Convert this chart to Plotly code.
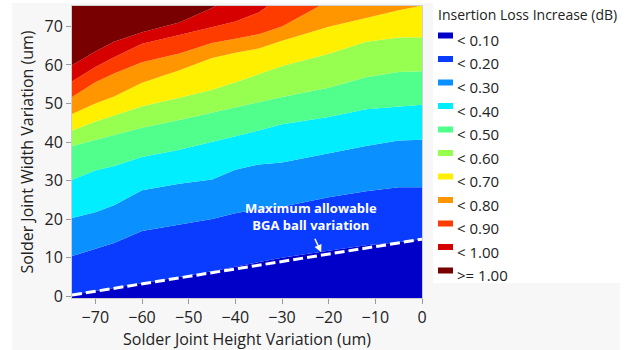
import plotly.graph_objects as go

# ---------------- data ----------------
x_vals = [-75, -70, -66, -60, -52, -45, -40, -35, -30, -20, -12, -5, 0]

# y position (um) of each contour boundary at x_vals
b010 = [0.3, 1.3, 2.1, 3.3, 5.0, 6.5, 7.7, 8.9, 10.0, 11.8, 13.2, 14.0, 14.8]
b020 = [10.4, 12.2, 13.8, 16.9, 18.5, 20.0, 21.5, 22.6, 23.2, 25.7, 27.2, 28.3, 28.3]
b030 = [20.3, 21.8, 23.6, 27.5, 29.2, 30.3, 32.8, 34.2, 34.7, 37.0, 39.0, 40.4, 40.6]
b040 = [30.2, 32.6, 33.8, 36.1, 38.0, 40.0, 41.5, 43.0, 44.6, 46.5, 48.5, 49.3, 49.7]
b050 = [39.0, 40.6, 41.7, 43.7, 45.7, 47.6, 48.8, 50.3, 51.7, 54.1, 56.8, 58.2, 58.4]
b060 = [43.0, 45.3, 46.9, 49.3, 51.5, 53.6, 55.5, 57.6, 59.7, 62.9, 66.0, 67.1, 67.2]
b070 = [47.3, 50.0, 51.8, 55.4, 58.6, 61.8, 63.2, 64.3, 66.3, 69.9, 72.2, 74.2, 75.4]
b080 = [51.7, 55.5, 57.8, 60.7, 63.0, 65.7, 66.8, 68.0, 70.0, 76.6, 80.0, 82.0, 84.0]
b090 = [55.7, 59.5, 62.0, 65.5, 67.8, 69.8, 71.3, 73.6, 78.0, 84.0, 88.0, 90.0, 92.0]
b100 = [59.9, 63.5, 66.0, 68.5, 71.0, 74.8, 78.0, 82.0, 86.0, 92.0, 95.0, 97.0, 98.0]
floor_y = [-5] * len(x_vals)
ceil_y = [100] * len(x_vals)

levels = ["< 0.10", "< 0.20", "< 0.30", "< 0.40", "< 0.50", "< 0.60",
          "< 0.70", "< 0.80", "< 0.90", "< 1.00", ">= 1.00"]
colors = ["#0000C8", "#0A3CFF", "#0A90FF", "#00EEFF", "#50FF8C", "#96FF50",
          "#FFF000", "#FF9600", "#FF3C00", "#D70000", "#780000"]

bga_x = [-75, 0]
bga_y = [0.3, 14.8]

x_ticks = [-70, -60, -50, -40, -30, -20, -10, 0]
y_ticks = [0, 10, 20, 30, 40, 50, 60, 70]

# ---------------- layout geometry ----------------
W, H = 636, 350
L, R, T, B = 72, 214, 6, 52
PW, PH = W - L - R, H - T - B

def px(x):
    return (x - L) / PW

def py(y):
    return (H - B - y) / PH

fig = go.Figure()

boundaries = [floor_y, b010, b020, b030, b040, b050, b060, b070, b080, b090, b100, ceil_y]
fig.add_trace(go.Scatter(x=x_vals, y=boundaries[0], mode="lines",
                         line=dict(width=0), showlegend=False, hoverinfo="skip"))
for i in range(1, len(boundaries)):
    fig.add_trace(go.Scatter(x=x_vals, y=boundaries[i], mode="lines",
                             line=dict(width=0), fill="tonexty",
                             fillcolor=colors[i - 1], name=levels[i - 1],
                             showlegend=False, hoverinfo="skip"))

fig.add_trace(go.Scatter(x=bga_x, y=bga_y, mode="lines",
                         line=dict(color="white", width=3, dash="10px,4px"),
                         showlegend=False, hoverinfo="skip"))

font_family = "Open Sans, Noto Sans, DejaVu Sans, sans-serif"

shapes = [
    dict(type="rect", xref="paper", yref="paper", x0=px(12), x1=px(620),
         y0=py(350), y1=py(3), fillcolor="#f7f7f7", line=dict(width=0), layer="below"),
    dict(type="rect", xref="paper", yref="paper", x0=px(433), x1=px(620),
         y0=py(283), y1=py(0), fillcolor="#ffffff", line=dict(width=0), layer="below"),
]
annotations = [
    dict(xref="paper", yref="paper", x=px(436), y=py(14), xanchor="left", yanchor="middle",
         text="Insertion Loss Increase (dB)", showarrow=False,
         font=dict(size=14, color="#222", family=font_family)),
    dict(x=-23.7, y=20.7, xanchor="center", yanchor="middle",
         text="<b>Maximum allowable<br>BGA ball variation</b>", showarrow=False,
         font=dict(size=13, color="white", family=font_family)),
    dict(x=-21.6, y=11.4, text="", showarrow=True, ax=-7, ay=-15,
         arrowhead=2, arrowsize=1, arrowwidth=1.5, arrowcolor="white"),
]
for i, (lab, col) in enumerate(zip(levels, colors)):
    cy = 40 + 23.5 * i
    shapes.append(dict(type="rect", xref="paper", yref="paper",
                       x0=px(438), x1=px(453), y0=py(cy - 1.5), y1=py(cy - 7.5),
                       fillcolor=col, line=dict(width=0)))
    annotations.append(dict(xref="paper", yref="paper", x=px(455), y=py(cy),
                            xanchor="left", yanchor="middle", text=lab, showarrow=False,
                            font=dict(size=15, color="#222", family=font_family)))

fig.update_layout(
    width=W, height=H,
    margin=dict(l=L, r=R, t=T, b=B),
    paper_bgcolor="white", plot_bgcolor="#f7f7f7",
    font=dict(family=font_family, color="#222"),
    shapes=shapes, annotations=annotations,
    xaxis=dict(range=[-75, 0], tickvals=x_ticks, ticks="outside", ticklen=5,
               tickcolor="#999", tickfont=dict(size=16, color="#222"),
               showgrid=False, zeroline=False, showline=True, linecolor="#cfcfcf",
               mirror=True, title=dict(text="Solder Joint Height Variation (um)",
                                       font=dict(size=16, color="#222"), standoff=4)),
    yaxis=dict(range=[-0.47, 75.3], tickvals=y_ticks, ticks="outside", ticklen=5,
               tickcolor="#999", tickfont=dict(size=16, color="#222"),
               showgrid=False, zeroline=False, showline=True, linecolor="#cfcfcf",
               mirror=True, title=dict(text="Solder Joint Width Variation (um)",
                                       font=dict(size=16, color="#222"), standoff=6)),
)

fig.write_html("out.html", config={"displayModeBar": False},
               post_script="document.body.style.margin='0px';")
